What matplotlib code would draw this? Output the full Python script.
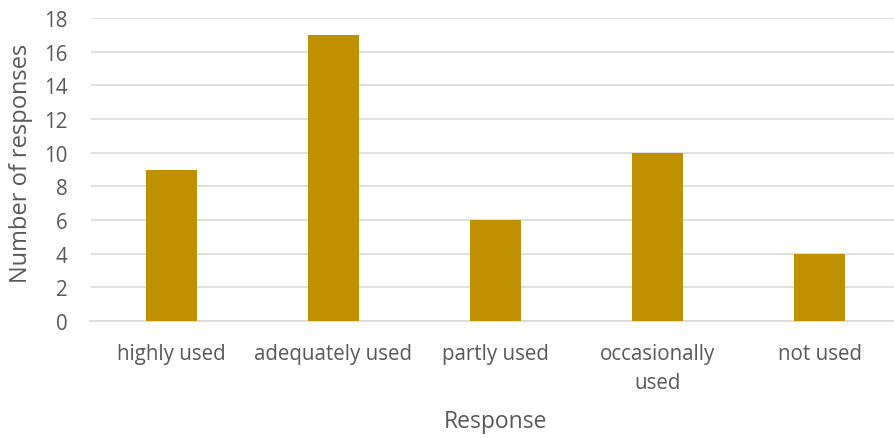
import matplotlib
matplotlib.use("Agg")
import matplotlib.pyplot as plt

categories = ["highly used", "adequately used", "partly used", "occasionally\nused", "not used"]
values = [9, 17, 6, 10, 4]
yticks = [0, 2, 4, 6, 8, 10, 12, 14, 16, 18]

plt.rcParams['font.family'] = ['Open Sans', 'DejaVu Sans']
txt = '#595959'

fig = plt.figure(figsize=(8.94, 4.39), dpi=100)
ax = fig.add_axes([90.5/894, 117/439, 810/894, 303/439])
x = list(range(len(categories)))
ax.bar(x, values, width=0.32, color='#BF9000', zorder=3)
ax.set_xlim(-0.5, len(categories) - 0.5)
ax.set_ylim(0, 18)
ax.set_yticks(yticks)
ax.set_xticks(x)
ax.set_xticklabels(categories, fontsize=14.8, color=txt, linespacing=1.55)
ax.tick_params(axis='y', labelsize=14.8, labelcolor=txt, length=0, pad=16.5)
ax.tick_params(axis='x', length=0, pad=15.5)
ax.grid(axis='y', color='#D9D9D9', linewidth=1.2, zorder=0)
for s in ['top', 'right', 'left']:
    ax.spines[s].set_visible(False)
ax.spines['bottom'].set_color('#D9D9D9')
ax.spines['bottom'].set_linewidth(1.2)
fig.text(21/894, 1 - 163/439, "Number of responses", fontsize=17, color=txt,
         ha='center', va='center', rotation=90)
fig.text(495/894, 1 - 422/439, "Response", fontsize=16.5, color=txt, ha='center', va='center')
fig.savefig("out.png", dpi=100)
